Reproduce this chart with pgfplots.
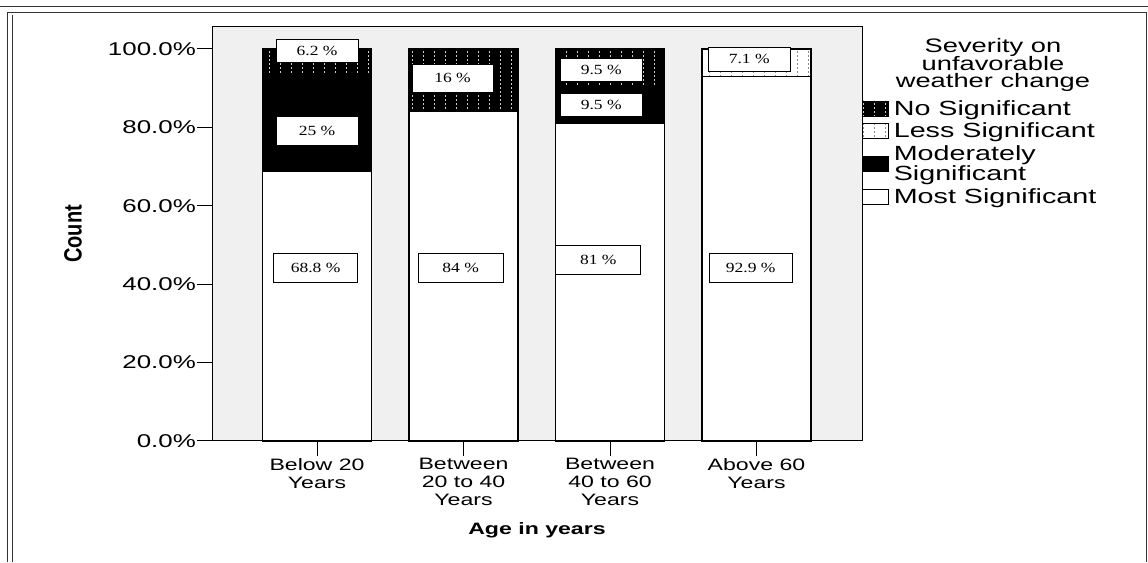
\documentclass[border=0pt]{standalone}
\usepackage{pgfplots}
\pgfplotsset{compat=1.18}
\usepackage{pgfplotstable}
\usepackage{fontspec}
\setmainfont{Liberation Sans}[FakeStretch=1.4]
\newfontface\countfont{Liberation Sans Bold}[FakeStretch=0.8]
\newfontfamily\boxfont{Liberation Serif}[FakeStretch=1.25]
\usetikzlibrary{patterns}
\definecolor{bg}{HTML}{F0F0F0}

\pgfdeclarepatternformonly{vdots}{\pgfqpoint{-1pt}{-1pt}}{\pgfqpoint{12pt}{5pt}}{\pgfqpoint{11pt}{4pt}}{%
  \pgfpathrectangle{\pgfqpoint{5pt}{1.2pt}}{\pgfqpoint{1.3pt}{1.6pt}}\pgfusepath{fill}}

\pgfplotstableread{
x most moder less nosig
0 68.8 25 0 6.2
1 84 0 0 16
2 81 9.5 0 9.5
3 92.9 0 7.1 0
}\datatable

\begin{document}
\lineskiplimit=-30pt\relax
\begin{tikzpicture}[x=1pt,y=1pt]
\useasboundingbox (0,0) rectangle (1148,562);
% outer frame
\draw[black!80, line width=0.8pt] (0,556) -- (1148,556);
\draw[black!80, line width=1pt] (7,0) -- (7,549) -- (1146,549) -- (1146,0);
\draw[black!80, line width=0.8pt] (12,0) -- (12,547);
\begin{axis}[
  at={(212pt,121pt)}, anchor=south west,
  scale only axis, width=650pt, height=414pt,
  ybar stacked, bar width=109pt,
  xmin=-0.717, xmax=3.72, ymin=0, ymax=105.6,
  axis background/.style={fill=bg},
  axis line style={black, line width=1pt},
  tick pos=left, tick align=outside,
  major tick length=15pt,
  tick style={black, line width=1pt},
  xtick={0,1,2,3},
  xticklabels={{Below 20\\Years},{Between\\20 to 40\\Years},{Between\\40 to 60\\Years},{Above 60\\Years}},
  xticklabel style={align=center, font=\fontsize{16.5}{18}\selectfont, inner sep=2pt},
  ytick={0,20,40,60,80,100},
  yticklabels={0.0\%,20.0\%,40.0\%,60.0\%,80.0\%,100.0\%},
  yticklabel style={font=\fontsize{18.5}{20}\selectfont, inner sep=1pt},
  xlabel={\fontsize{16.5}{18}\selectfont\bfseries Age in years},
  xlabel style={at={(axis description cs:0.5,-0.215)}, anchor=center},
  ylabel={\countfont\fontsize{25}{27}\selectfont Count},
  ylabel style={at={(axis description cs:-0.214,0.5)}, anchor=center},
  clip=false,
  reverse legend,
  legend style={at={(axis description cs:1,0.823)}, anchor=north west, draw=none, fill=none,
    inner sep=0pt, outer sep=0pt, row sep=6.5pt, column sep=5pt,
    font=\fontsize{20.5}{14}\selectfont, nodes={inner sep=0pt, align=left}},
  legend cell align=left,
  legend image code/.code={\draw[#1, draw=black, line width=0.8pt] (0pt,-7.5pt) rectangle (26pt,7.5pt);},
  every axis plot/.append style={draw=black, line width=1.2pt},
]
\addplot[fill=white] table[x=x,y=most]{\datatable};
\addlegendentry{Most Significant}
\addplot[fill=black] table[x=x,y=moder]{\datatable};
\addlegendentry{Moderately\\Significant}
\addplot[fill=white, postaction={pattern=vdots, pattern color=black!45}] table[x=x,y=less]{\datatable};
\addlegendentry{Less Significant}
\addplot[fill=black, postaction={pattern=vdots, pattern color=white!80!black}] table[x=x,y=nosig]{\datatable};
\addlegendentry{No Significant}
\end{axis}
\begin{axis}[
  at={(212pt,121pt)}, anchor=south west,
  scale only axis, width=650pt, height=414pt,
  xmin=-0.717, xmax=3.72, ymin=0, ymax=105.6,
  hide axis, clip=false,
]
\node[align=center, font=\fontsize{19.5}{17.5}\selectfont] at (axis description cs:1.2015,0.908) {Severity on\\unfavorable\\weather change};
\tikzset{pbox/.style={draw=black, fill=white, line width=0.8pt, inner sep=0pt, font=\fontsize{14}{16}\selectfont\boxfont}}
\node[pbox, minimum width=82pt, minimum height=23pt] at (axis cs:0,99.5) {6.2 \%};
\node[pbox, minimum width=82pt, minimum height=29pt] at (axis cs:0,79.1) {25 \%};
\node[pbox, minimum width=84pt, minimum height=29pt] at (axis cs:-0.01,44.1) {68.8 \%};
\node[pbox, minimum width=81pt, minimum height=28pt] at (axis cs:0.925,92.6) {16 \%};
\node[pbox, minimum width=85pt, minimum height=29pt] at (axis cs:0.98,44.1) {84 \%};
\node[pbox, minimum width=82pt, minimum height=23pt] at (axis cs:1.94,94.6) {9.5 \%};
\node[pbox, minimum width=82pt, minimum height=23pt] at (axis cs:1.94,85.7) {9.5 \%};
\node[pbox, minimum width=85pt, minimum height=29pt] at (axis cs:1.92,46.2) {81 \%};
\node[pbox, minimum width=82pt, minimum height=24pt] at (axis cs:2.95,97.4) {7.1 \%};
\node[pbox, minimum width=83pt, minimum height=29pt] at (axis cs:2.96,44.1) {92.9 \%};
\end{axis}
\end{tikzpicture}
\end{document}
